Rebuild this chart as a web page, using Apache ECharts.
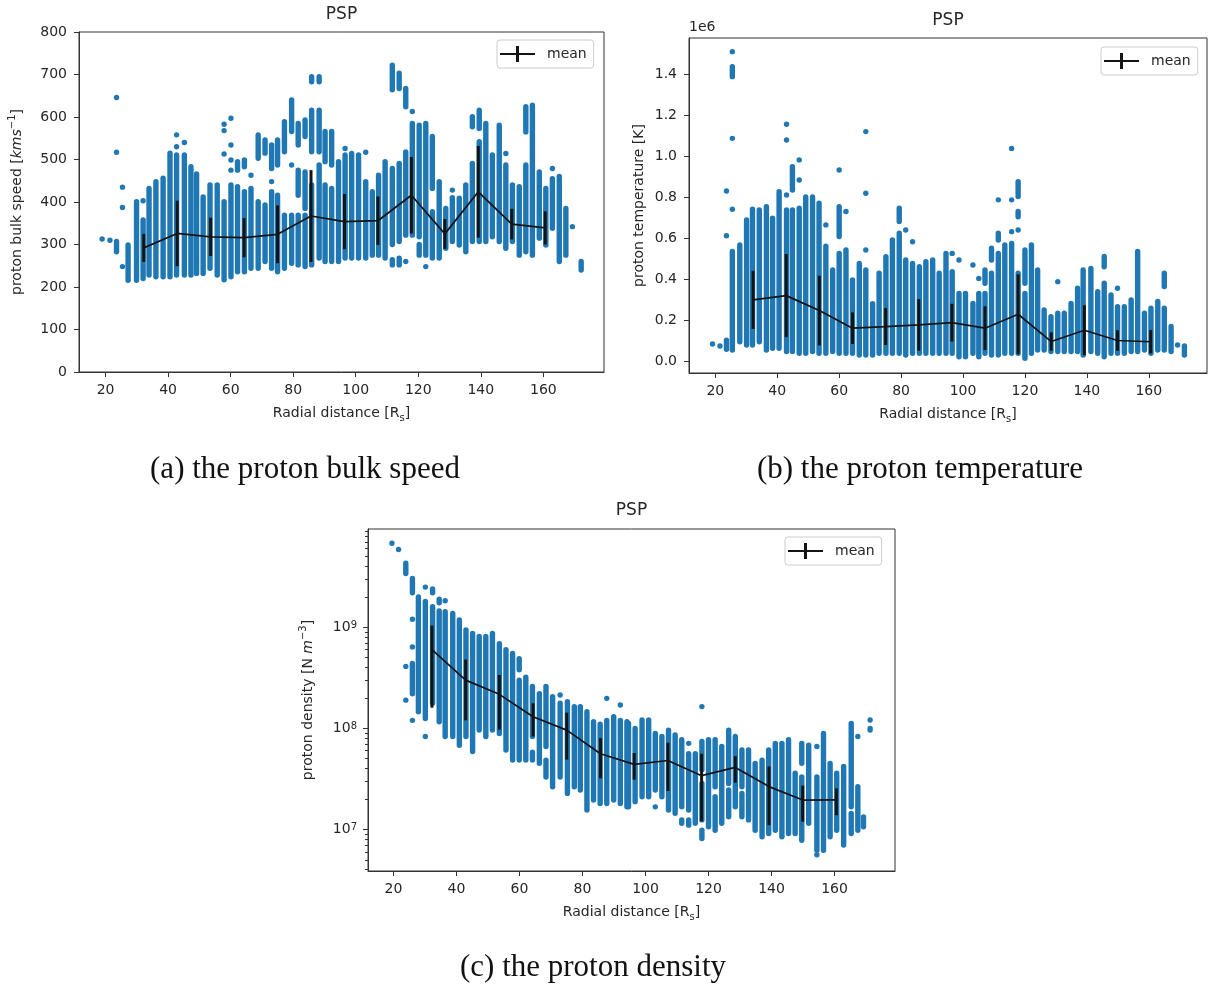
<!DOCTYPE html>
<html><head><meta charset="utf-8">
<script src="https://cdn.jsdelivr.net/npm/echarts@6.0.0/dist/echarts.min.js"></script>
<style>html,body{margin:0;padding:0;background:#fff}#c{width:1215px;height:988px}</style>
</head><body><div id="c"></div>
<script>
// ---------------- data ----------------
// radial-distance bin centres of the "mean" curve [R_s]
const binCenters = [32.2, 42.9, 53.6, 64.3, 75.0, 85.7, 96.4, 107.1, 117.8, 128.5, 139.2, 149.9, 160.6];

// (a) proton bulk speed [km/s]
const speedMean = [292, 326, 318, 316, 324, 367, 354, 356, 416, 325, 424, 348, 339];
const speedStd  = [33, 77, 45, 46, 68, 108, 65, 57, 90, 35, 108, 36, 39];
// scatter: vertical runs of samples [x, low, high] (single samples have low == high)
const speedCols = [
 [18.9,313,313],[21.4,310,310],
 [23.5,646,646],[23.5,517,517],[23.5,283,307],
 [25.4,435,435],[25.4,387,387],[25.4,248,248],
 [27.2,216,299],[29.9,216,401],[32.0,403,403],[32.0,220,358],[33.9,228,432],
 [36.1,224,448],[38.4,224,456],[40.6,224,515],
 [42.7,558,558],[42.7,530,530],[42.7,228,511],
 [45.2,540,540],[45.2,228,511],[47.3,228,483],[49.1,232,466],[51.2,232,412],
 [53.4,244,440],[55.7,228,440],
 [57.9,583,583],[57.9,568,568],[57.9,513,513],[57.9,217,401],
 [60.1,597,597],[60.1,534,534],[60.1,499,499],[60.1,475,475],[60.1,224,440],
 [62.2,475,495],[62.2,236,436],
 [64.4,483,499],[64.4,236,424],
 [66.5,463,463],[66.5,244,432],
 [68.8,503,558],[68.8,244,401],
 [71.0,515,546],[71.0,260,393],
 [73.1,479,534],[73.1,448,448],[73.1,244,424],
 [75.0,487,546],[75.0,236,416],
 [77.2,518,589],[77.2,244,369],
 [79.5,566,640],[79.5,487,487],[79.5,256,369],
 [81.6,534,585],[81.6,416,475],[81.6,252,369],
 [83.8,554,593],[83.8,385,471],[83.8,248,369],
 [85.9,683,695],[85.9,518,616],[85.9,252,440],
 [88.3,683,695],[88.3,518,616],[88.3,268,487],
 [90.2,495,566],[90.2,260,440],
 [92.3,487,566],[92.3,260,432],
 [94.5,260,495],
 [96.6,526,526],[96.6,268,511],[98.7,268,514],[100.9,268,511],
 [103.2,517,517],[103.2,268,448],[105.3,275,424],[107.3,275,463],[109.4,268,495],
 [111.7,664,722],[111.7,300,479],[111.7,252,264],
 [113.9,667,703],[113.9,307,491],[113.9,252,268],
 [116.0,624,667],[116.0,322,518],[116.0,260,260],
 [118.1,613,613],[118.1,322,585],
 [120.3,318,581],[120.3,275,300],
 [122.4,275,585],[122.4,248,248],
 [124.5,432,554],[124.5,268,377],
 [126.7,268,448],[128.8,291,385],
 [130.9,428,428],[130.9,307,410],
 [133.1,299,409],[135.2,283,440],
 [137.3,577,601],[137.3,307,491],
 [139.5,573,616],[139.5,307,542],
 [141.6,307,585],[143.7,318,511],[145.9,307,581],
 [148.0,514,514],[148.0,291,487],
 [150.1,307,440],[152.3,275,436],
 [154.4,565,624],[154.4,283,487],
 [156.5,275,628],[158.7,315,471],[160.8,299,432],
 [162.9,479,479],[162.9,338,455],
 [165.1,260,460],[167.2,275,385],[169.3,342,342],[172.1,240,260]
];

// (b) proton temperature [10^6 K]
const tempMean = [0.298, 0.319, 0.246, 0.160, 0.168, 0.176, 0.187, 0.160, 0.228, 0.095, 0.150, 0.100, 0.094];
const tempStd  = [0.142, 0.203, 0.170, 0.077, 0.090, 0.126, 0.092, 0.107, 0.195, 0.045, 0.122, 0.050, 0.057];
const tempCols = [
 [19.1,0.083,0.083],[21.5,0.073,0.073],
 [23.6,0.829,0.829],[23.6,0.611,0.611],[23.6,0.057,0.102],
 [25.5,1.509,1.509],[25.5,1.387,1.436],[25.5,1.086,1.086],[25.5,0.74,0.74],[25.5,0.054,0.534],
 [27.9,0.094,0.566],[30.1,0.078,0.688],[32.0,0.078,0.74],[34.2,0.094,0.737],
 [36.5,0.054,0.753],[38.5,0.062,0.696],[40.6,0.062,0.826],
 [43.0,1.155,1.155],[43.0,1.078,1.078],[43.0,0.81,0.81],[43.0,0.046,0.737],
 [44.9,0.834,0.948],[44.9,0.046,0.737],
 [47.1,0.981,0.981],[47.1,0.883,0.883],[47.1,0.038,0.745],
 [49.2,0.038,0.80],[51.4,0.046,0.80],[53.5,0.038,0.77],
 [55.7,0.664,0.664],[55.7,0.038,0.56],
 [57.9,0.046,0.444],
 [60.0,0.932,0.932],[60.0,0.607,0.753],[60.0,0.038,0.525],
 [62.2,0.729,0.729],[62.2,0.038,0.542],
 [64.3,0.038,0.395],[66.5,0.029,0.476],
 [68.6,1.119,1.119],[68.6,0.818,0.818],[68.6,0.542,0.542],[68.6,0.029,0.444],
 [70.8,0.029,0.28],[72.9,0.038,0.428],[75.1,0.038,0.509],[77.2,0.038,0.59],
 [79.4,0.68,0.745],[79.4,0.038,0.623],
 [81.5,0.639,0.639],[81.5,0.029,0.493],
 [83.7,0.582,0.582],[83.7,0.038,0.476],
 [85.9,0.038,0.46],[88.0,0.038,0.485],[90.2,0.038,0.493],[92.3,0.038,0.428],[94.5,0.038,0.525],
 [96.5,0.525,0.525],[96.5,0.038,0.436],
 [98.7,0.493,0.493],[98.7,0.021,0.33],
 [100.8,0.021,0.33],
 [103.2,0.468,0.468],[103.2,0.038,0.281],
 [105.1,0.403,0.403],[105.1,0.021,0.33],
 [107.1,0.379,0.444],[107.1,0.038,0.33],
 [109.2,0.493,0.55],[109.2,0.029,0.428],
 [111.4,0.786,0.786],[111.4,0.59,0.623],[111.4,0.029,0.525],
 [113.5,0.038,0.566],
 [115.7,1.037,1.037],[115.7,0.786,0.786],[115.7,0.631,0.631],[115.7,0.038,0.574],
 [117.8,0.802,0.875],[117.8,0.704,0.729],[117.8,0.639,0.639],[117.8,0.038,0.428],
 [120.0,0.379,0.542],[120.0,0.013,0.33],
 [122.1,0.038,0.566],[124.1,0.054,0.444],[126.2,0.054,0.249],[128.4,0.046,0.216],
 [130.6,0.387,0.387],[130.6,0.046,0.233],
 [132.7,0.046,0.233],[134.9,0.046,0.281],[137.0,0.046,0.355],[138.8,0.029,0.444],
 [141.3,0.046,0.452],[143.5,0.038,0.338],
 [145.6,0.46,0.51],[145.6,0.021,0.379],
 [147.8,0.038,0.322],
 [149.9,0.355,0.355],[149.9,0.038,0.265],
 [152.1,0.038,0.265],[154.3,0.046,0.298],[156.4,0.046,0.534],[158.6,0.054,0.233],
 [160.7,0.038,0.257],[162.9,0.054,0.29],
 [165.0,0.363,0.428],[165.0,0.054,0.257],
 [167.2,0.046,0.168],[169.3,0.078,0.078],[171.5,0.029,0.073]
];

// (c) proton density [N m^-3]
const densMean = [6.0e8, 3.0e8, 2.17e8, 1.3e8, 9.6e7, 5.6e7, 4.4e7, 4.8e7, 3.4e7, 4.1e7, 2.65e7, 1.95e7, 1.96e7];
const densStd  = [4.4e8, 1.8e8, 1.2e8, 4.7e7, 4.7e7, 2.4e7, 1.3e7, 2.4e7, 2.2e7, 1.2e7, 1.55e7, 7.6e6, 5.8e6];
const densCols = [
 [19.5,6.8e9,6.8e9],[21.6,5.9e9,5.9e9],
 [23.9,3.4e9,4.3e9],[23.9,4.1e8,4.1e8],[23.9,1.9e8,1.9e8],
 [26.0,2.2e9,3.05e9],[26.0,1.2e9,1.2e9],[26.0,6.4e8,6.4e8],[26.0,2.2e8,4.4e8],[26.0,1.2e8,1.2e8],
 [27.9,1.46e8,2.0e9],
 [30.1,2.5e9,2.5e9],[30.1,1.25e8,1.8e9],[30.1,8.3e7,8.3e7],
 [32.4,2.2e9,2.4e9],[32.4,1.77e8,1.6e9],
 [34.5,1.75e9,1.9e9],[34.5,1.16e8,1.45e9],
 [36.4,1.83e9,1.83e9],[36.4,8.3e7,1.43e9],
 [38.8,8.3e7,1.37e9],[40.9,6.8e7,1.18e9],[43.0,8.3e7,9.4e8],[45.1,5.9e7,8.7e8],
 [47.2,9.6e7,8.1e8],[49.3,8.3e7,8.1e8],[51.4,9.6e7,8.7e8],[53.6,8.9e7,6.9e8],
 [55.7,6.1e7,6.0e8],[57.8,4.85e7,5.5e8],
 [59.9,3.8e8,4.9e8],[59.9,4.85e7,3.0e8],
 [62.0,4.85e7,3.2e8],
 [64.1,8.3e7,2.6e8],[64.1,4.85e7,5.8e7],
 [66.3,4.5e7,2.2e8],
 [68.4,6.6e7,2.6e8],[68.4,3.3e7,4.85e7],
 [70.5,2.64e7,2.06e8],
 [72.9,2.14e8,2.14e8],[72.9,3.3e7,1.77e8],
 [75.2,2.27e7,1.84e8],[77.4,2.64e7,1.64e8],[79.3,2.45e7,1.64e8],[81.4,1.55e7,1.46e8],
 [83.5,1.95e7,1.16e8],[85.6,1.8e7,1.1e8],
 [87.7,1.98e8,1.98e8],[87.7,1.8e7,1.2e8],
 [89.9,1.95e7,1.3e8],
 [92.0,1.7e8,1.7e8],[92.0,1.8e7,1.2e8],
 [94.1,1.67e7,1.16e8],[94.6,1.67e7,1.12e8],[96.7,1.88e7,1.0e8],[98.9,2.1e7,1.21e8],
 [101.0,2.1e7,1.21e8],
 [103.1,2.45e7,8.9e7],[103.1,1.67e7,1.67e7],
 [105.2,2.1e7,8.3e7],[107.3,1.55e7,9.6e7],[109.4,1.44e7,8.6e7],
 [111.5,1.67e7,7.7e7],[111.5,1.15e7,1.24e7],
 [113.7,7.1e7,7.1e7],[113.7,1.55e7,5.6e7],[113.7,1.1e7,1.24e7],
 [115.8,1.15e7,5.6e7],
 [117.9,1.64e8,1.64e8],[117.9,3.9e7,7.4e7],[117.9,1.24e7,2.85e7],[117.9,8.1e6,9.8e6],
 [120.0,1.06e7,7.7e7],
 [122.1,2.64e7,7.7e7],[122.1,9.8e6,2.1e7],
 [124.2,1.15e7,6.6e7],
 [126.4,2.85e7,9.6e7],[126.4,1.33e7,2.45e7],
 [128.5,1.67e7,8.3e7],
 [130.6,2.64e7,6.1e7],[130.6,1.33e7,2.27e7],
 [132.7,1.24e7,6.1e7],[134.8,9.8e6,4.5e7],[137.0,8.45e6,4.85e7],[139.1,9.1e6,6.1e7],
 [141.2,9.8e6,7.1e7],[143.3,8.45e6,7.1e7],[145.4,9.1e6,7.7e7],[147.5,9.1e6,3.6e7],
 [149.6,4.5e7,7.1e7],[149.6,7.8e6,3.3e7],
 [151.8,1.15e7,6.8e7],
 [154.4,6.6e7,6.6e7],[154.4,6.2e6,3.3e7],[154.4,5.6e6,5.6e6],
 [156.5,6.2e6,8.9e7],[158.6,8.45e6,4.5e7],[160.7,9.8e6,3.6e7],[162.9,7.0e6,4.2e7],
 [165.3,1.67e7,1.12e8],[165.3,9.1e6,1.44e7],
 [167.4,8.3e7,8.3e7],[167.4,9.8e6,2.64e7],
 [169.2,1.06e7,1.33e7],
 [171.3,1.21e8,1.21e8],[171.3,9.6e7,1.0e8]
];

// tick values
const xTicks = [20, 40, 60, 80, 100, 120, 140, 160];
const speedTicks = [0, 100, 200, 300, 400, 500, 600, 700, 800];
const tempTicks = [0, 0.2, 0.4, 0.6, 0.8, 1.0, 1.2, 1.4];
const densTicks = [1e7, 1e8, 1e9];
const densMinorTicks = [4e6,5e6,6e6,7e6,8e6,9e6,2e7,3e7,4e7,5e7,6e7,7e7,8e7,9e7,2e8,3e8,4e8,5e8,6e8,7e8,8e8,9e8,2e9,3e9,4e9,5e9,6e9,7e9,8e9,9e9];

// ---------------- chart ----------------
const FONT = 'DejaVu Sans';
const TXT = '#262626';
const AX = '#333333';
const BLUE = '#1f77b4';
const SERIF = 'Liberation Serif';

const chart = echarts.init(document.getElementById('c'), null, {renderer: 'canvas'});

function colRender(params, api) {
  const x = api.value(0), lo = api.value(1), hi = api.value(2);
  const a = api.coord([x, hi]), b = api.coord([x, lo]);
  const w = 5.4;
  return {type: 'rect', shape: {x: a[0] - w / 2, y: a[1] - w / 2, width: w, height: b[1] - a[1] + w, r: w / 2},
          style: {fill: BLUE}};
}
function errRender(params, api) {
  const x = api.value(0), lo = api.value(1), hi = api.value(2);
  const a = api.coord([x, hi]), b = api.coord([x, lo]);
  return {type: 'line', shape: {x1: a[0], y1: a[1], x2: b[0], y2: b[1]},
          style: {stroke: '#141414', lineWidth: 3}};
}

const richText = {
  sub: {fontSize: 10, fontFamily: FONT, color: TXT, verticalAlign: 'bottom', lineHeight: 10},
  sup: {fontSize: 10, fontFamily: FONT, color: TXT, verticalAlign: 'top', lineHeight: 10},
  it: {fontSize: 14, fontFamily: FONT, color: TXT, fontStyle: 'italic'}
};
const nameStyle = {fontSize: 14, fontFamily: FONT, color: TXT, lineHeight: 20, rich: richText};

const grids = [
  {left: 79, top: 32, width: 525, height: 340},
  {left: 689, top: 38, width: 518, height: 335},
  {left: 368, top: 529, width: 527, height: 342}
].map(g => Object.assign(g, {show: true, borderColor: AX, borderWidth: 1, backgroundColor: 'transparent', containLabel: false}));

function xAxis(i, min, max) {
  return {
    type: 'value', gridIndex: i, min: min, max: max,
    name: 'Radial distance [R{sub|s}]', nameLocation: 'middle', nameGap: 31, nameTextStyle: nameStyle,
    axisLine: {show: true, onZero: false, lineStyle: {color: AX, width: 1}},
    axisTick: {show: true, length: 5, lineStyle: {color: AX}, customValues: xTicks},
    axisLabel: {customValues: xTicks, margin: 11, color: TXT, fontSize: 14, fontFamily: FONT},
    splitLine: {show: false}
  };
}

const option = {
  animation: false,
  backgroundColor: '#ffffff',
  grid: grids,
  title: [
    {text: 'PSP', left: 341.5, top: 6, textAlign: 'center', padding: 0, textStyle: {fontSize: 17, fontWeight: 'normal', fontFamily: FONT, color: TXT}},
    {text: 'PSP', left: 948, top: 12, textAlign: 'center', padding: 0, textStyle: {fontSize: 17, fontWeight: 'normal', fontFamily: FONT, color: TXT}},
    {text: 'PSP', left: 631.5, top: 502, textAlign: 'center', padding: 0, textStyle: {fontSize: 17, fontWeight: 'normal', fontFamily: FONT, color: TXT}},
    {text: '1e6', left: 689, top: 20, padding: 0, textStyle: {fontSize: 14, fontWeight: 'normal', fontFamily: FONT, color: TXT}},
    {text: '(a) the proton bulk speed', left: 305, top: 454, textAlign: 'center', padding: 0, textStyle: {fontSize: 31, fontWeight: 'normal', fontFamily: SERIF, color: '#111'}},
    {text: '(b) the proton temperature', left: 920, top: 454, textAlign: 'center', padding: 0, textStyle: {fontSize: 31, fontWeight: 'normal', fontFamily: SERIF, color: '#111'}},
    {text: '(c) the proton density', left: 593, top: 952, textAlign: 'center', padding: 0, textStyle: {fontSize: 31, fontWeight: 'normal', fontFamily: SERIF, color: '#111'}}
  ],
  legend: [
    {left: 497, top: 40}, {left: 1101, top: 47}, {left: 785, top: 537}
  ].map(p => Object.assign(p, {
    data: ['mean'], orient: 'horizontal', selectedMode: false,
    itemWidth: 35, itemHeight: 16,
    icon: 'path://M0,7 L35,7 L35,9 L0,9 Z M16,0 L19,0 L19,16 L16,16 Z',
    padding: [6, 7, 6, 3],
    backgroundColor: 'rgba(255,255,255,0.8)', borderColor: '#cccccc', borderWidth: 1, borderRadius: 3,
    textStyle: {fontSize: 14, fontFamily: FONT, color: TXT, padding: [0, 0, 0, 7]}
  })),
  xAxis: [xAxis(0, 11.5, 179.4), xAxis(1, 11.5, 178.8), xAxis(2, 11.9, 179.2)],
  yAxis: [
    {type: 'value', gridIndex: 0, min: 0, max: 800,
     name: 'proton bulk speed [{it|kms}{sup|−1}]', nameLocation: 'middle', nameGap: 52, nameTextStyle: nameStyle,
     axisLine: {show: true, onZero: false, lineStyle: {color: AX}},
     axisTick: {show: true, length: 5, lineStyle: {color: AX}, customValues: speedTicks},
     axisLabel: {customValues: speedTicks, margin: 12, color: TXT, fontSize: 14, fontFamily: FONT},
     splitLine: {show: false}},
    {type: 'value', gridIndex: 1, min: -0.0585, max: 1.5756,
     name: 'proton temperature [K]', nameLocation: 'middle', nameGap: 40, nameTextStyle: nameStyle,
     axisLine: {show: true, onZero: false, lineStyle: {color: AX}},
     axisTick: {show: true, length: 5, lineStyle: {color: AX}, customValues: tempTicks},
     axisLabel: {customValues: tempTicks, margin: 12, color: TXT, fontSize: 14, fontFamily: FONT,
                 formatter: v => v.toFixed(1)},
     splitLine: {show: false}},
    {type: 'log', logBase: 10, gridIndex: 2, position: 'left', min: 3.87e6, max: 9.4e9,
     name: 'proton density [N {it|m}{sup|−3}]', nameLocation: 'middle', nameGap: 50, nameTextStyle: nameStyle,
     axisLine: {show: true, onZero: false, lineStyle: {color: AX}},
     axisTick: {show: true, length: 5, lineStyle: {color: AX}, customValues: densTicks},
     axisLabel: {customValues: densTicks, margin: 11, color: TXT, fontSize: 14, fontFamily: FONT,
                 formatter: v => '10{sup|' + Math.round(Math.log10(v)) + '}',
                 rich: {sup: {fontSize: 10, fontFamily: FONT, color: TXT, verticalAlign: 'top', lineHeight: 10}}},
     splitLine: {show: false}},
    {type: 'log', logBase: 10, gridIndex: 2, position: 'left', offset: 0, min: 3.87e6, max: 9.4e9,
     axisLine: {show: false, onZero: false},
     axisTick: {show: true, length: 3, lineStyle: {color: AX}, customValues: densMinorTicks},
     axisLabel: {show: false}, splitLine: {show: false}}
  ],
  series: []
};

const sets = [
  {cols: speedCols, mean: speedMean, std: speedStd, y: 0},
  {cols: tempCols, mean: tempMean, std: tempStd, y: 1},
  {cols: densCols, mean: densMean, std: densStd, y: 2}
];
sets.forEach((s, i) => {
  option.series.push({
    type: 'custom', name: 'samples', xAxisIndex: i, yAxisIndex: s.y, z: 2, silent: true,
    renderItem: colRender, encode: {x: 0, y: [1, 2]}, data: s.cols
  });
  option.series.push({
    type: 'custom', name: 'errorbar', xAxisIndex: i, yAxisIndex: s.y, z: 3, silent: true,
    renderItem: errRender, encode: {x: 0, y: [1, 2]},
    data: binCenters.map((x, k) => [x, s.mean[k] - s.std[k], s.mean[k] + s.std[k]])
  });
  option.series.push({
    type: 'line', name: 'mean', xAxisIndex: i, yAxisIndex: s.y, z: 4, silent: true,
    symbol: 'none', color: '#141414', lineStyle: {color: '#141414', width: 1.7},
    data: binCenters.map((x, k) => [x, s.mean[k]])
  });
});

chart.setOption(option);
</script>
</body></html>
